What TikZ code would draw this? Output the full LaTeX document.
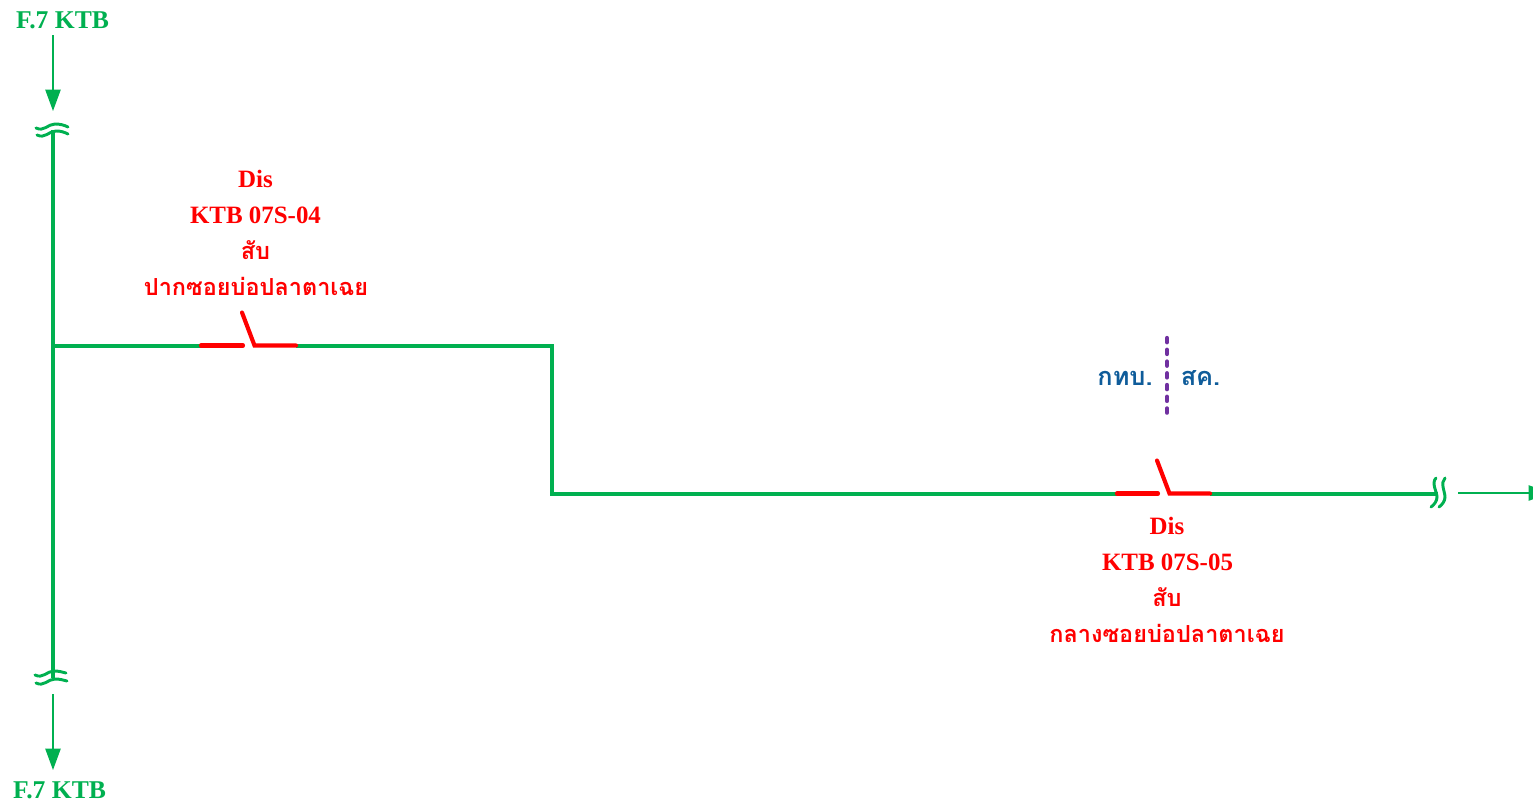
\documentclass[tikz,border=0pt]{standalone}
\usepackage{fontspec}
\usetikzlibrary{arrows.meta}
\setmainfont{Liberation Serif}
\newfontfamily\thaifont[Script=Thai]{Loma}
\definecolor{lineg}{HTML}{00B050}
\definecolor{labelb}{HTML}{0F5C9A}
\definecolor{sep}{HTML}{7030A0}
\tikzset{
  feeder/.style={draw=lineg,line width=3pt,line join=miter},
  thinarrow/.style={draw=lineg,line width=0.9pt,-{Triangle[length=16pt,width=11.5pt,fill=lineg]}},
  breakmark/.style={draw=lineg,line width=2.2pt,line cap=round},
  switchline/.style={draw=red,line width=3.1pt,line cap=round,line join=miter},
  sepline/.style={draw=sep,line width=3.2pt,line cap=round,dash pattern=on 3.2pt off 5.6pt},
  greenlabel/.style={text=lineg,font=\fontsize{19.2pt}{22pt}\selectfont\bfseries,inner sep=0pt},
  redlabel/.style={text=red,align=center,inner sep=0pt,font=\bfseries},
  bluelabel/.style={text=labelb,inner sep=0pt,font=\thaifont\fontsize{19pt}{22pt}\selectfont\bfseries}
}
\newcommand{\thl}[1]{{\thaifont\fontsize{17.6pt}{27pt}\selectfont #1}}
\begin{document}
\begin{tikzpicture}[x=0.75pt,y=-0.75pt]
\useasboundingbox (0,0) rectangle (1533,803);
% named points
\coordinate (topArrowStart) at (53,35);
\coordinate (topArrowEnd) at (53,111);
\coordinate (busTop) at (52.5,130);
\coordinate (busBottom) at (52.5,678);
\coordinate (tee) at (52.5,345.5);
\coordinate (corner1) at (552,345.5);
\coordinate (corner2) at (552,493.5);
\coordinate (lineEnd) at (1438,493.5);
\coordinate (botArrowStart) at (53,694);
\coordinate (botArrowEnd) at (53,770);
\coordinate (rightArrowStart) at (1458,493);
\coordinate (rightArrowEnd) at (1550,493);
% switches
\coordinate (s1a) at (201,345.5);
\coordinate (s1b) at (243,345.5);
\coordinate (s1t) at (242,312.5);
\coordinate (s1c) at (254.5,345.5);
\coordinate (s1d) at (296,345.5);
\coordinate (s2a) at (1117,493.5);
\coordinate (s2b) at (1158,493.5);
\coordinate (s2t) at (1157,460.5);
\coordinate (s2c) at (1169.5,493.5);
\coordinate (s2d) at (1210,493.5);
\coordinate (sepTop) at (1167,338);
\coordinate (sepBot) at (1167,413);
% feeder
\draw[feeder] (busTop) -- (busBottom);
\draw[feeder] (tee) -- (s1a);
\draw[feeder] (s1d) -- (corner1) -- (corner2) -- (s2a);
\draw[feeder] (s2d) -- (lineEnd);
% arrows
\draw[thinarrow] (topArrowStart) -- (topArrowEnd);
\draw[thinarrow] (botArrowStart) -- (botArrowEnd);
\draw[thinarrow] (rightArrowStart) -- (rightArrowEnd);
% break marks
\draw[breakmark] (36,128) .. controls (44,132) and (48,124) .. (55,124) .. controls (60,124) and (64,125) .. (68,127);
\draw[breakmark] (37,135) .. controls (45,139) and (49,131) .. (56,131) .. controls (61,131) and (64,132) .. (68,134);
\draw[breakmark] (35,675) .. controls (43,679) and (47,671) .. (54,671) .. controls (59,671) and (62,672) .. (66,673);
\draw[breakmark] (36,683) .. controls (44,687) and (48,679) .. (55,679) .. controls (60,679) and (63,680) .. (67,681);
\draw[breakmark] (1436,478) .. controls (1431,483) and (1437,492) .. (1437,497) .. controls (1437,501) and (1434,505) .. (1431,507);
\draw[breakmark] (1445,478) .. controls (1440,483) and (1445,492) .. (1445,497) .. controls (1445,501) and (1442,505) .. (1439,507);
% switches
\draw[switchline] (s1a) -- (s1b);
\draw[switchline] (s1t) -- (s1c) -- (s1d);
\draw[switchline] (s2a) -- (s2b);
\draw[switchline] (s2t) -- (s2c) -- (s2d);
% separator
\draw[sepline] (sepTop) -- (sepBot);
% labels
\node[greenlabel] (ftop) at (62.5,20) {F.7 KTB};
\node[greenlabel] (fbot) at (59.5,790.5) {F.7 KTB};
\node[redlabel,anchor=center] (d1a) at (255.5,179) {\fontsize{18.7pt}{22pt}\selectfont Dis};
\node[redlabel] (d1b) at (255.5,215) {\fontsize{18.7pt}{22pt}\selectfont KTB 07S-04};
\node[redlabel] (d1c) at (255.5,250) {\thl{สับ}};
\node[redlabel] (d1d) at (256,286) {\thl{ปากซอยบ่อปลาตาเฉย}};
\node[redlabel] (d2a) at (1167,526) {\fontsize{18.7pt}{22pt}\selectfont Dis};
\node[redlabel] (d2b) at (1167.5,562) {\fontsize{18.7pt}{22pt}\selectfont KTB 07S-05};
\node[redlabel] (d2c) at (1167,597) {\thl{สับ}};
\node[redlabel] (d2d) at (1167,633) {\thl{กลางซอยบ่อปลาตาเฉย}};
\node[bluelabel] (bl1) at (1125,378) {กทบ.};
\node[bluelabel] (bl2) at (1200.5,378) {สค.};
\end{tikzpicture}
\end{document}
